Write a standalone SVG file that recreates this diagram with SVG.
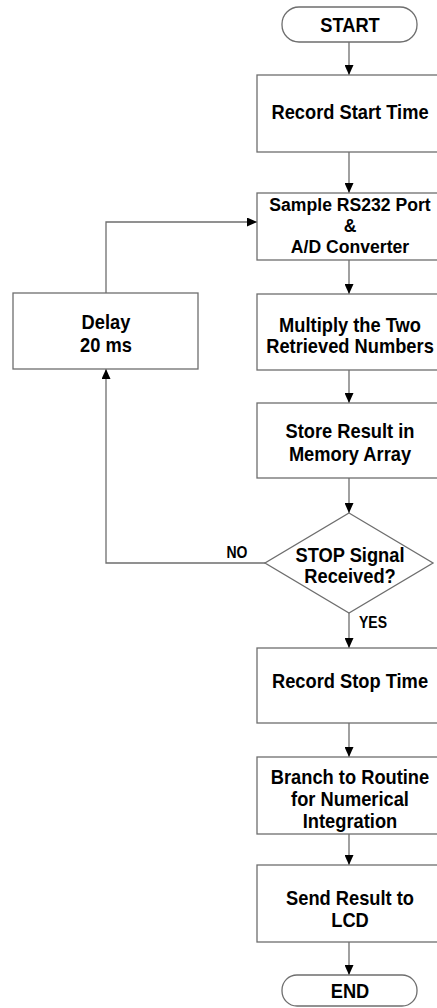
<svg xmlns="http://www.w3.org/2000/svg" width="437" height="1008" viewBox="0 0 437 1008">
<style>
.box{fill:#fff;stroke:#6e6e6e;stroke-width:1.3}
.line{fill:none;stroke:#6e6e6e;stroke-width:1.3}
text{font-family:"Liberation Sans",Arial,sans-serif;font-weight:bold;font-size:18.3px;fill:#000;text-anchor:middle}
.lbl{font-size:14px}
.tight{font-size:17.6px}
</style>
<defs>
<marker id="ah" markerWidth="10" markerHeight="9" refX="10" refY="4.5" orient="auto" markerUnits="userSpaceOnUse">
<path d="M0,0 L10,4.5 L0,9 z" fill="#000"/>
</marker>
</defs>
<rect width="437" height="1008" fill="#fff"/>
<g id="connectors">
<line class="line" x1="349" y1="42" x2="349" y2="75" marker-end="url(#ah)"/>
<line class="line" x1="349" y1="152" x2="349" y2="193" marker-end="url(#ah)"/>
<line class="line" x1="349" y1="260" x2="349" y2="294" marker-end="url(#ah)"/>
<line class="line" x1="349" y1="370" x2="349" y2="403" marker-end="url(#ah)"/>
<line class="line" x1="349" y1="478" x2="349" y2="513" marker-end="url(#ah)"/>
<line class="line" x1="349" y1="613" x2="349" y2="648" marker-end="url(#ah)"/>
<line class="line" x1="349" y1="723" x2="349" y2="757" marker-end="url(#ah)"/>
<line class="line" x1="349" y1="834" x2="349" y2="865" marker-end="url(#ah)"/>
<line class="line" x1="349" y1="942" x2="349" y2="975" marker-end="url(#ah)"/>
<polyline class="line" points="265,563 106,563 106,369" marker-end="url(#ah)"/>
<polyline class="line" points="106,293 106,222 257,222" marker-end="url(#ah)"/>
<text class="lbl" transform="translate(237,558) scale(1,1.12)">NO</text>
<text class="lbl" transform="translate(373,628) scale(1,1.12)">YES</text>
</g>
<g id="start">
<rect class="box" x="282" y="7" width="135" height="35" rx="17"/>
<text transform="translate(350,32) scale(1,1.12)">START</text>
</g>
<g id="record-start">
<rect class="box" x="257" y="75" width="190" height="77"/>
<text transform="translate(350,119) scale(1,1.12)">Record Start Time</text>
</g>
<g id="sample">
<rect class="box" x="257" y="193" width="190" height="67"/>
<text class="tight" x="350" y="211">Sample RS232 Port</text>
<text class="tight" x="350" y="232">&amp;</text>
<text class="tight" x="350" y="253">A/D Converter</text>
</g>
<g id="multiply">
<rect class="box" x="257" y="294" width="190" height="76"/>
<text transform="translate(350,332) scale(1,1.12)">Multiply the Two</text>
<text transform="translate(350,353) scale(1,1.12)">Retrieved Numbers</text>
</g>
<g id="store">
<rect class="box" x="257" y="403" width="190" height="75"/>
<text transform="translate(350,438) scale(1,1.12)">Store Result in</text>
<text transform="translate(350,461) scale(1,1.12)">Memory Array</text>
</g>
<g id="decision">
<polygon class="box" points="349,513 433,563 349,613 265,563"/>
<text transform="translate(350,562) scale(1,1.12)">STOP Signal</text>
<text transform="translate(350,583) scale(1,1.12)">Received?</text>
</g>
<g id="delay">
<rect class="box" x="13" y="293" width="185" height="76"/>
<text transform="translate(106,329) scale(1,1.12)">Delay</text>
<text transform="translate(106,352) scale(1,1.12)">20 ms</text>
</g>
<g id="record-stop">
<rect class="box" x="257" y="648" width="190" height="75"/>
<text transform="translate(350,688) scale(1,1.12)">Record Stop Time</text>
</g>
<g id="branch">
<rect class="box" x="257" y="757" width="190" height="77"/>
<text transform="translate(350,784) scale(1,1.12)">Branch to Routine</text>
<text transform="translate(350,806) scale(1,1.12)">for Numerical</text>
<text transform="translate(350,828) scale(1,1.12)">Integration</text>
</g>
<g id="send">
<rect class="box" x="257" y="865" width="190" height="77"/>
<text transform="translate(350,905) scale(1,1.12)">Send Result to</text>
<text transform="translate(350,927) scale(1,1.12)">LCD</text>
</g>
<g id="end">
<rect class="box" x="282" y="975" width="135" height="31" rx="15"/>
<text transform="translate(350,998) scale(1,1.12)">END</text>
</g>
</svg>
